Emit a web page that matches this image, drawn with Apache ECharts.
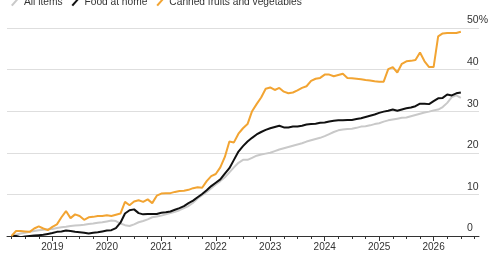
<!DOCTYPE html>
<html>
<head>
<meta charset="utf-8">
<script src="https://cdn.jsdelivr.net/npm/echarts@6/dist/echarts.min.js"></script>
<style>
  html, body { margin: 0; padding: 0; background: #fff; }
  #chart { width: 497px; height: 261px; }
</style>
</head>
<body>
<div id="chart"></div>
<script>
// monthly categories, Mar 2018 .. Nov 2026
var months = [];
for (var y = 2018; y <= 2026; y++) {
    for (var m = 1; m <= 12; m++) {
        if (y == 2018 && m < 3) continue;
        if (y == 2026 && m > 11) continue;
        months.push(y + "-" + (m < 10 ? "0" + m : m));
    }
}

var seriesNames = ["All items", "Food at home", "Canned fruits and vegetables"];
var yTicks = [0, 10, 20, 30, 40, 50];

// cumulative % change, Apr 2018 .. Jul 2026
var allItems = [
    0, 0.3, 0.6, 0.8, 1.0, 1.2, 1.4, 1.5, 1.6, 1.7,
    1.9, 2.1, 2.2, 2.4, 2.5, 2.6, 2.7, 2.9, 3.0, 3.2,
    3.3, 3.5, 3.7, 3.6, 3.0, 2.6, 2.4, 2.8, 3.3, 3.6,
    4.0, 4.5, 4.7, 4.9, 5.2, 5.5, 5.8, 6.2, 6.7, 7.2,
    8.0, 9.0, 9.8, 10.6, 11.5, 12.4, 13.2, 14.1, 15.3, 16.5,
    17.6, 18.3, 18.3, 18.8, 19.3, 19.6, 19.8, 20.0, 20.4, 20.8,
    21.1, 21.4, 21.7, 22.0, 22.3, 22.7, 23.0, 23.3, 23.6, 24.0,
    24.5, 25.0, 25.4, 25.6, 25.7, 25.8, 26.0, 26.3, 26.4, 26.6,
    26.9, 27.1, 27.5, 27.8, 28.0, 28.2, 28.4, 28.5, 28.8, 29.1,
    29.4, 29.7, 29.9, 30.2, 30.4, 31.0, 32.0, 33.4, 33.8, 33.2
];
var foodAtHome = [
    0, 0, -0.3, -0.1, 0, 0.1, 0.2, 0.3, 0.5, 0.7,
    1.0, 1.1, 1.3, 1.2, 1.0, 0.9, 0.8, 0.6, 0.8, 0.9,
    1.1, 1.3, 1.4, 1.9, 3.2, 5.4, 6.2, 6.4, 5.5, 5.2,
    5.3, 5.3, 5.3, 5.6, 5.7, 5.9, 6.3, 6.7, 7.2, 7.9,
    8.5, 9.3, 10.1, 11.0, 12.0, 12.8, 13.6, 15.0, 16.3, 18.3,
    20.3, 21.6, 22.7, 23.6, 24.4, 25.0, 25.5, 25.9, 26.2, 26.5,
    26.1, 26.1, 26.3, 26.3, 26.5, 26.8, 26.9, 27.0, 27.2, 27.3,
    27.5, 27.7, 27.8, 27.8, 27.9, 27.9, 28.1, 28.3, 28.6, 28.9,
    29.2, 29.6, 29.9, 30.1, 30.4, 30.1, 30.4, 30.7, 30.9, 31.2,
    31.8, 31.8, 31.7, 32.4, 33.1, 33.2, 34.0, 33.8, 34.3, 34.5
];
var canned = [
    0, 1.2, 1.2, 1.1, 1.0, 1.8, 2.3, 1.8, 1.4, 2.2,
    2.8, 4.5, 6.0, 4.3, 5.2, 4.8, 3.9, 4.5, 4.6, 4.8,
    4.8, 5.0, 4.8, 5.1, 5.4, 8.2, 7.4, 8.3, 8.6, 8.2,
    8.8, 7.9, 9.7, 10.2, 10.3, 10.3, 10.6, 10.8, 10.9, 11.1,
    11.5, 11.7, 11.6, 13.2, 14.4, 14.9, 16.5, 19.0, 22.7, 22.5,
    24.6, 25.9, 26.9, 30.0, 31.7, 33.3, 35.4, 35.7, 35.1, 35.6,
    34.7, 34.3, 34.5, 35.0, 35.6, 36.0, 37.3, 37.8, 38.0, 38.8,
    38.8, 38.4, 38.7, 39.0, 38.0, 37.9, 37.8, 37.7, 37.5, 37.4,
    37.2, 37.1, 37.1, 40.1, 40.6, 39.3, 41.4, 42.0, 42.1, 42.3,
    44.1, 42.0, 40.6, 40.6, 48.0, 48.7, 48.8, 48.8, 48.8, 49.1
];

var colors = ["#c9c9c9", "#111111", "#f2a432"];
var font = "'Liberation Sans', Arial, sans-serif";

var chart = echarts.init(document.getElementById("chart"), null, { renderer: "canvas" });

function monthOf(v) { return parseInt(v.split("-")[1], 10); }

var option = {
    animation: false,
    backgroundColor: "#fff",
    textStyle: { fontFamily: font },
    legend: {
        data: seriesNames,
        left: 6,
        top: -8,
        itemWidth: 8,
        itemHeight: 10,
        itemGap: 9,
        icon: "path://M0,9 L8,0 L10,1.4 L2,10.4 Z",
        textStyle: { fontSize: 10.2, color: "#333", fontFamily: font }
    },
    grid: { left: 7, right: 18, top: 28, bottom: 25, containLabel: false },
    xAxis: [{
        type: "category",
        data: months,
        boundaryGap: false,
        axisLine: { show: true, lineStyle: { color: "#333", width: 1 } },
        axisTick: {
            show: true, length: 3, lineStyle: { color: "#333" },
            interval: function (i, v) { return (monthOf(v) - 1) % 3 == 0; }
        },
        axisLabel: { show: false },
        splitLine: { show: false }
    }, {
        type: "category",
        data: months,
        boundaryGap: false,
        position: "bottom",
        axisLine: { show: false },
        axisTick: {
            show: true, length: 5, lineStyle: { color: "#333" },
            interval: function (i, v) { return monthOf(v) == 1; }
        },
        axisLabel: {
            show: true, margin: 6, fontSize: 10, color: "#333", fontFamily: font,
            interval: function (i, v) { return monthOf(v) == 1; },
            formatter: function (v) { return v.split("-")[0]; }
        },
        splitLine: { show: false }
    }],
    yAxis: {
        type: "value",
        position: "right",
        min: yTicks[0],
        max: yTicks[yTicks.length - 1],
        interval: 10,
        axisLine: { show: false },
        axisTick: { show: false },
        axisLabel: {
            margin: -12,
            fontSize: 10.5,
            color: "#333",
            fontFamily: font,
            verticalAlign: "bottom",
            padding: [0, 0, 2, 0],
            formatter: function (v) { return v == 50 ? v + "%" : v; }
        },
        splitLine: { show: true, lineStyle: { color: "#dedede", width: 1 } }
    },
    series: [
        { name: seriesNames[0], data: [null].concat(allItems) },
        { name: seriesNames[1], data: [null].concat(foodAtHome) },
        { name: seriesNames[2], data: [null].concat(canned) }
    ].map(function (s, i) {
        return {
            name: s.name,
            type: "line",
            xAxisIndex: 0,
            data: s.data,
            showSymbol: false,
            symbol: "none",
            color: colors[i],
            lineStyle: { color: colors[i], width: 2 },
            z: 2 + i
        };
    })
};

chart.setOption(option);
</script>
</body>
</html>
